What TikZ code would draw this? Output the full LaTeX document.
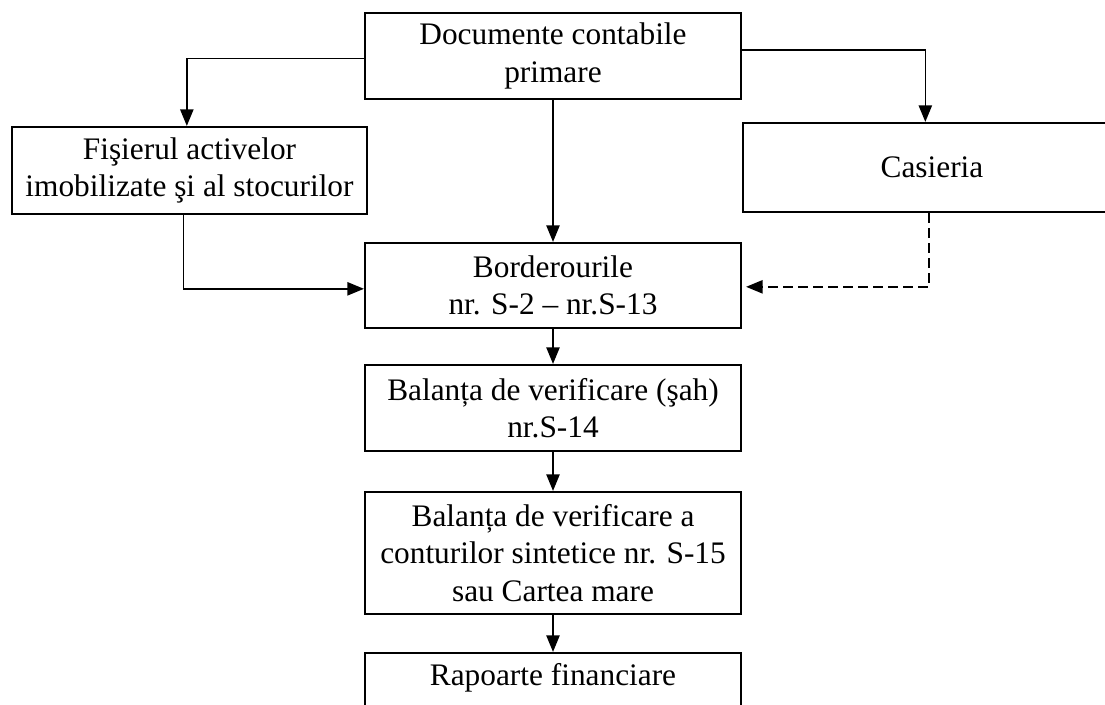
\documentclass[tikz,border=0pt]{standalone}
\usepackage{fontspec}
\setmainfont{Liberation Serif}
\usetikzlibrary{arrows.meta}
\begin{document}
\begin{tikzpicture}[x=0.75pt,y=-0.75pt,
  box/.style={draw, line width=1.6pt, rectangle, inner sep=0pt, align=center,
    font=\fontsize{23.5}{28}\selectfont},
  label/.style={inner sep=0pt, font=\fontsize{23.5}{28}\selectfont},
  flow/.style={line width=1.2pt, -{Triangle[length=12.5pt,width=10pt]}},
  cashflow/.style={flow, dash pattern=on 7.5pt off 3.75pt, shorten >=3pt}]
\useasboundingbox (0,0) rectangle (1105,705);

% boxes
\node[box, minimum width=376*0.75pt, minimum height=86*0.75pt] (doc) at (553,56)
  {Documente contabile\\primare};
\node[box, minimum width=355*0.75pt, minimum height=87*0.75pt] (fis) at (189.5,170.5)
  {Fişierul activelor\\imobilizate şi al stocurilor};
\node[box, minimum width=378*0.75pt, minimum height=89*0.75pt] (cas) at (932,167.5)
  {Casieria};
\node[box, minimum width=376*0.75pt, minimum height=85*0.75pt] (bord) at (553,285.5)
  {Borderourile\\nr. S-2 – nr.S-13};
\node[box, minimum width=376*0.75pt, minimum height=86*0.75pt] (bal) at (553,408)
  {Balanța de verificare (şah)\\nr.S-14};
\node[box, minimum width=376*0.75pt, minimum height=122*0.75pt] (sint) at (553,553)
  {Balanța de verificare a\\conturilor sintetice nr. S-15\\sau Cartea mare};
\node[box, minimum width=376*0.75pt, minimum height=94*0.75pt] (rap) at (553,700) {};
\node[label, anchor=base] (raptxt) at (553,685) {Rapoarte financiare};

% connectors
\draw[flow] ([yshift=-2pt]doc.west) -| ([xshift=-2pt]fis.north);
\draw[flow] ([yshift=4.5pt]doc.east) -| ([xshift=-5pt]cas.north);
\draw[flow] (doc.south) -- (bord.north);
\draw[flow] ([xshift=-4.5pt]fis.south) |- ([yshift=-2.5pt]bord.west);
\draw[cashflow] ([xshift=-2.25pt]cas.south) |- ([yshift=-1pt]bord.east);
\draw[flow] (bord.south) -- (bal.north);
\draw[flow] (bal.south) -- (sint.north);
\draw[flow] (sint.south) -- (rap.north);
\end{tikzpicture}
\end{document}
